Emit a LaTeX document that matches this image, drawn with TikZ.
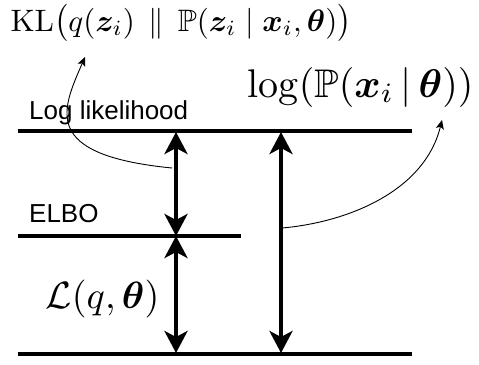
\documentclass[tikz,border=0pt]{standalone}
\usepackage{amsmath,amssymb,bm}
\usepackage{fontspec}
\newfontfamily\arialfont{Liberation Sans}
\usetikzlibrary{arrows.meta}
\tikzset{
  level/.style={line width=4.5pt},
  bigarrow/.style={line width=4pt,{Stealth[length=22pt,width=23pt,inset=6pt]}-{Stealth[length=22pt,width=23pt,inset=6pt]}},
  pointer/.style={line width=0.9pt,-{Stealth[length=9pt,width=8pt,inset=2pt]}},
  lbl/.style={inner sep=0pt,anchor=base west,font=\arialfont\fontsize{26}{31}\selectfont},
  mathlbl/.style={inner sep=0pt,anchor=base west}
}
\begin{document}
\begin{tikzpicture}[x=1pt,y=-1pt]
\useasboundingbox (0,0) rectangle (479,364);
% levels
\coordinate (tl) at (18,131);
\coordinate (tr) at (412,131);
\coordinate (el) at (18,236);
\coordinate (er) at (241,236);
\coordinate (bl) at (18,354);
\coordinate (br) at (412,354);
\draw[level] (tl) -- (tr);
\draw[level] (el) -- (er);
\draw[level] (bl) -- (br);
% arrows
\coordinate (a1) at (176,132);
\coordinate (a2) at (176,236);
\coordinate (a3) at (176,353);
\coordinate (c1) at (281,132);
\coordinate (c2) at (281,353);
\draw[bigarrow] (a1) -- (a2);
\draw[bigarrow] (a2) -- (a3);
\draw[bigarrow] (c1) -- (c2);
% labels
\node[lbl] (ll) at (29,119) {Log likelihood};
\node[lbl] (elbo) at (29,222) {ELBO};
\node[mathlbl,scale=3.1] (kl) at (10,31)
  {$\mathrm{KL}\bigl(q(\bm{z}_i)\;\,\|\;\,\mathbb{P}(\bm{z}_i\;|\;\bm{x}_i,\bm{\theta})\bigr)$};
\node[mathlbl,scale=4.0] (lg) at (247,97)
  {$\log(\mathbb{P}(\bm{x}_i\,|\,\bm{\theta}))$};
\node[mathlbl,scale=3.8] (lq) at (45,308)
  {$\mathcal{L}(q,\bm{\theta})$};
% pointers
\coordinate (p1) at (172,168);
\coordinate (q1) at (85,57);
\coordinate (p2) at (282,228);
\coordinate (q2) at (442,120);
\draw[pointer] (p1) .. controls (40,155) and (62,110) .. (q1);
\draw[pointer] (p2) .. controls (350,222) and (425,190) .. (q2);
\end{tikzpicture}
\end{document}
